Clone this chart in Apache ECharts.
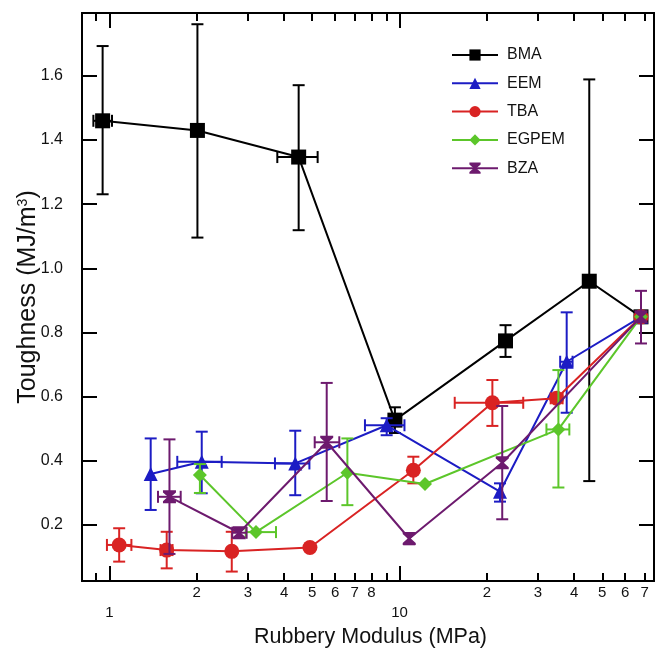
<!DOCTYPE html>
<html>
<head>
<meta charset="utf-8">
<script src="https://cdn.jsdelivr.net/npm/echarts@6/dist/echarts.min.js"></script>
<style>
  html, body { margin: 0; padding: 0; background: #fff; }
  #chart { width: 662px; height: 653px; }
</style>
</head>
<body>
<div id="chart"></div>
<script>
// Toughness vs. rubbery modulus for five monomer families.
// Points are [modulus (MPa), toughness (MJ/m^3)]; error ranges are [low, high] or null.
const seriesNames = ['BMA', 'EEM', 'TBA', 'EGPEM', 'BZA'];

const bmaPts  = [[0.947, 1.46], [2.01, 1.43], [4.49, 1.347], [9.64, 0.527], [23.2, 0.774], [45.1, 0.96], [68, 0.849]];
const bmaYErr = [[1.231, 1.693], [1.096, 1.761], [1.119, 1.571], [0.487, 0.567], [0.724, 0.823], [0.337, 1.589], null];
const bmaXErr = [[0.88, 1.02], null, [3.79, 5.22], null, null, null, null];

const eemPts  = [[1.387, 0.359], [2.08, 0.397], [4.37, 0.392], [9.03, 0.511], [22.2, 0.304], [37.7, 0.709], [68, 0.849]];
const eemYErr = [[0.247, 0.47], [0.299, 0.491], [0.293, 0.494], [0.48, 0.533], [0.273, 0.33], [0.55, 0.863], null];
const eemXErr = [null, [1.713, 2.437], [3.72, 4.89], [7.6, 10.4], null, [35.8, 39.5], null];

const tbaPts  = [[1.08, 0.138], [1.575, 0.122], [2.64, 0.118], [4.91, 0.13], [11.16, 0.371], [20.9, 0.581], [34.8, 0.595], [68, 0.849]];
const tbaYErr = [[0.086, 0.19], [0.065, 0.179], [0.055, 0.179], null, [0.33, 0.413], [0.509, 0.652], null, null];
const tbaXErr = [[0.98, 1.19], [1.5, 1.65], null, null, null, [15.5, 26.7], [33.2, 36.5], null];

const egpemPts  = [[2.05, 0.356], [3.2, 0.178], [6.61, 0.363], [12.24, 0.328], [35.3, 0.498], [68, 0.849]];
const egpemYErr = [[0.30, 0.39], null, [0.262, 0.47], null, [0.317, 0.683], null];
const egpemXErr = [null, [2.95, 3.75], null, null, [32.1, 38.5], null];

const bzaPts  = [[1.61, 0.288], [2.80, 0.176], [5.61, 0.458], [10.8, 0.158], [22.6, 0.394], [68, 0.849]];
const bzaYErr = [[0.11, 0.467], null, [0.275, 0.643], [0.14, 0.175], [0.218, 0.571], [0.766, 0.93]];
const bzaXErr = [[1.47, 1.76], [2.65, 2.97], [5.1, 6.2], null, null, null];

// Axis ticks and labels
const xMajorTicks = [1, 10];
const xMinorTicks = [0.9, 2, 3, 4, 5, 6, 7, 8, 9, 20, 30, 40, 50, 60, 70];
const xMinorLabelVals = [2, 3, 4, 5, 6, 7, 8, 20, 30, 40, 50, 60, 70];
const xMinorLabelText = ['2', '3', '4', '5', '6', '7', '8', '2', '3', '4', '5', '6', '7'];
const xMajorLabelText = ['1', '10'];
const yTicks = [0.2, 0.4, 0.6, 0.8, 1.0, 1.2, 1.4, 1.6];
const yTickText = ['0.2', '0.4', '0.6', '0.8', '1.0', '1.2', '1.4', '1.6'];

const X_MIN = 0.804, X_MAX = 75.4;
const Y_MIN = 0.0256, Y_MAX = 1.796;

const colors = {
  BMA: '#000000',
  EEM: '#1c1cc4',
  TBA: '#d92323',
  EGPEM: '#5cc62a',
  BZA: '#6d1a6e'
};
const hourglass = 'path://M0,0L10,0L10,1.6L6.2,5L10,8.4L10,10L0,10L0,8.4L3.8,5L0,1.6Z';

const FONT = '"Liberation Sans", Arial, Helvetica, sans-serif';

function labelFor(vals, texts) {
  return function (v) {
    for (let i = 0; i < vals.length; i++) {
      if (Math.abs(vals[i] - v) / vals[i] < 1e-6) return texts[i];
    }
    return '';
  };
}

function errorBars(yErr, xErr, color) {
  return function (params, api) {
    const i = api.value(2);
    const x = api.value(0), y = api.value(1);
    const cap = 6;
    const style = { stroke: color, lineWidth: 2, fill: null };
    const kids = [];
    const ye = yErr[i], xe = xErr[i];
    if (ye) {
      const lo = api.coord([x, ye[0]]), hi = api.coord([x, ye[1]]);
      kids.push({ type: 'line', shape: { x1: lo[0], y1: lo[1], x2: hi[0], y2: hi[1] }, style });
      kids.push({ type: 'line', shape: { x1: lo[0] - cap, y1: lo[1], x2: lo[0] + cap, y2: lo[1] }, style });
      kids.push({ type: 'line', shape: { x1: hi[0] - cap, y1: hi[1], x2: hi[0] + cap, y2: hi[1] }, style });
    }
    if (xe) {
      const l = api.coord([xe[0], y]), r = api.coord([xe[1], y]);
      kids.push({ type: 'line', shape: { x1: l[0], y1: l[1], x2: r[0], y2: r[1] }, style });
      kids.push({ type: 'line', shape: { x1: l[0], y1: l[1] - cap, x2: l[0], y2: l[1] + cap }, style });
      kids.push({ type: 'line', shape: { x1: r[0], y1: r[1] - cap, x2: r[0], y2: r[1] + cap }, style });
    }
    return { type: 'group', children: kids };
  };
}

const groups = [
  { name: 'BMA', pts: bmaPts, yErr: bmaYErr, xErr: bmaXErr, symbol: 'rect', size: 15 },
  { name: 'EEM', pts: eemPts, yErr: eemYErr, xErr: eemXErr, symbol: 'triangle', size: 14 },
  { name: 'TBA', pts: tbaPts, yErr: tbaYErr, xErr: tbaXErr, symbol: 'circle', size: 15 },
  { name: 'EGPEM', pts: egpemPts, yErr: egpemYErr, xErr: egpemXErr, symbol: 'diamond', size: 14 },
  { name: 'BZA', pts: bzaPts, yErr: bzaYErr, xErr: bzaXErr, symbol: hourglass, size: 13 }
];

const series = [];
groups.forEach(function (g, k) {
  const c = colors[g.name];
  series.push({
    type: 'line',
    name: g.name,
    data: g.pts,
    symbol: g.symbol,
    symbolSize: g.size,
    showAllSymbol: true,
    lineStyle: { color: c, width: 2 },
    itemStyle: { color: c },
    emphasis: { disabled: true },
    z: 3 + k
  });
  series.push({
    type: 'custom',
    data: g.pts.map(function (p, i) { return [p[0], p[1], i]; }),
    encode: { x: 0, y: 1 },
    renderItem: errorBars(g.yErr, g.xErr, c),
    z: 3 + k,
    silent: true
  });
});

const tickLine = { color: '#000', width: 2 };
const axisLine = { show: true, lineStyle: { color: '#000', width: 2 } };

function xAxisDef(position, tickVals, len, labelOpt, extra) {
  return Object.assign({
    type: 'log',
    logBase: 10,
    min: X_MIN,
    max: X_MAX,
    position: position,
    axisLine: axisLine,
    axisTick: { show: true, inside: true, length: len, customValues: tickVals, lineStyle: tickLine },
    axisLabel: labelOpt,
    splitLine: { show: false },
    minorTick: { show: false }
  }, extra || {});
}

const chart = echarts.init(document.getElementById('chart'), null, { renderer: 'canvas' });
chart.setOption({
  animation: false,
  backgroundColor: '#fff',
  textStyle: { fontFamily: FONT },
  grid: { left: 82, right: 8, top: 13, bottom: 72, containLabel: false, outerBoundsMode: 'none' },
  legend: {
    data: seriesNames,
    orient: 'vertical',
    left: 451,
    top: 47,
    padding: 0,
    itemWidth: 46,
    itemHeight: 14,
    itemGap: 12.3,
    textStyle: { fontFamily: FONT, fontSize: 16, lineHeight: 14, color: '#111', padding: [0, 0, 0, 4] },
    selectedMode: false
  },
  xAxis: [
    xAxisDef('bottom', xMinorTicks, 8, {
      show: true, customValues: xMinorLabelVals, margin: 4,
      fontFamily: FONT, fontSize: 15, color: '#111',
      formatter: labelFor(xMinorLabelVals, xMinorLabelText)
    }, {
      name: 'Rubbery Modulus (MPa)', nameLocation: 'middle', nameGap: 45,
      nameMoveOverlap: false,
      nameTextStyle: { fontFamily: FONT, fontSize: 21.5, color: '#111', padding: [0, 0, 0, 5] }
    }),
    xAxisDef('bottom', xMajorTicks, 15, {
      show: true, customValues: xMajorTicks, margin: 24,
      fontFamily: FONT, fontSize: 15, color: '#111',
      formatter: labelFor(xMajorTicks, xMajorLabelText)
    }),
    xAxisDef('top', xMinorTicks, 8, { show: false }),
    xAxisDef('top', xMajorTicks, 15, { show: false })
  ],
  yAxis: [
    {
      type: 'value', min: Y_MIN, max: Y_MAX, position: 'left',
      axisLine: axisLine,
      axisTick: { show: true, inside: true, length: 15, customValues: yTicks, lineStyle: tickLine },
      axisLabel: {
        customValues: yTicks, margin: 19, fontFamily: FONT, fontSize: 16, color: '#111',
        formatter: labelFor(yTicks, yTickText)
      },
      splitLine: { show: false },
      name: 'Toughness (MJ/m{sup|3})', nameLocation: 'middle', nameGap: 41,
      nameMoveOverlap: false,
      nameTextStyle: {
        fontFamily: FONT, fontSize: 25, color: '#111',
        rich: { sup: { fontFamily: FONT, fontSize: 14, color: '#111', verticalAlign: 'top', lineHeight: 14, padding: [0, 0, 12, 0] } }
      }
    },
    {
      type: 'value', min: Y_MIN, max: Y_MAX, position: 'right',
      axisLine: axisLine,
      axisTick: { show: true, inside: true, length: 15, customValues: yTicks, lineStyle: tickLine },
      axisLabel: { show: false },
      splitLine: { show: false }
    }
  ],
  series: series
});
</script>
</body>
</html>
